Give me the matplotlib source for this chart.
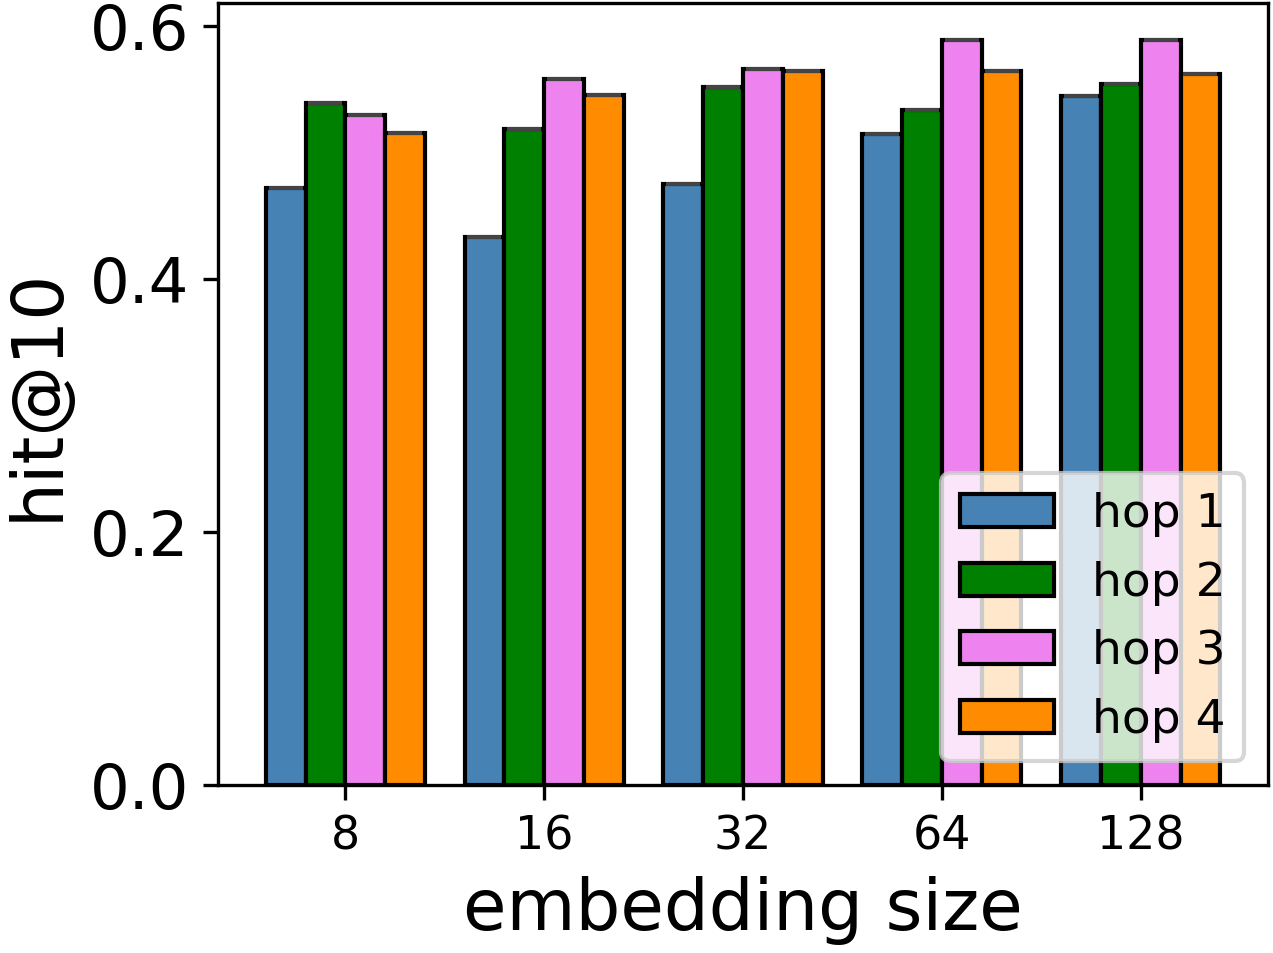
import matplotlib

matplotlib.use("Agg")
import matplotlib.pyplot as plt
import numpy as np

emb_sizes = ["8", "16", "32", "64", "128"]
hops = ["hop 1", "hop 2", "hop 3", "hop 4"]
colors = ["steelblue", "green", "violet", "darkorange"]

hit10 = {
    "hop 1": [0.472, 0.433, 0.475, 0.515, 0.545],
    "hop 2": [0.539, 0.519, 0.552, 0.534, 0.554],
    "hop 3": [0.530, 0.558, 0.566, 0.589, 0.589],
    "hop 4": [0.516, 0.546, 0.565, 0.565, 0.562],
}
err = [0.0, 0.0, 0.0, 0.0, 0.0]


def main() -> None:
    fig = plt.figure(figsize=(1273 / 300, 953 / 300), dpi=300)
    ax = fig.add_axes([218 / 1273, 168 / 953, 1050 / 1273, 782 / 953])
    x = np.arange(len(emb_sizes))
    w = 0.2
    for i, (h, c) in enumerate(zip(hops, colors)):
        pos = x + (i - 1.5) * w
        ax.bar(pos, hit10[h], w, color=c, edgecolor="black", linewidth=1.0,
               label=h)
        ax.errorbar(pos, hit10[h], yerr=err, fmt="none", ecolor="#444444",
                    capsize=4.0, capthick=0.9, elinewidth=0.9, zorder=3)
    ax.set_xticks(x)
    ax.set_xticklabels(emb_sizes, fontsize=11)
    ax.set_yticks([0.0, 0.2, 0.4, 0.6])
    ax.tick_params(axis="y", labelsize=15)
    ax.set_xlabel("embedding size", fontsize=17)
    ax.set_ylabel("hit@10", fontsize=17)
    ax.legend(fontsize=11.3, loc="lower right")
    fig.savefig("out.png", dpi=300)
    plt.close(fig)


if __name__ == "__main__":
    main()
